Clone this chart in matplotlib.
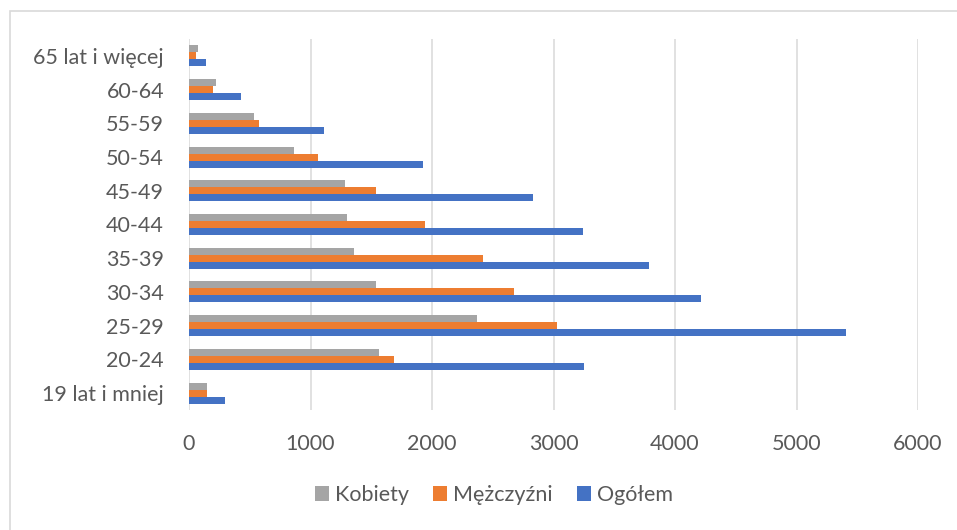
import matplotlib
matplotlib.use("Agg")
import matplotlib.pyplot as plt
import numpy as np
from matplotlib.patches import Rectangle

categories = ["19 lat i mniej", "20-24", "25-29", "30-34", "35-39", "40-44",
              "45-49", "50-54", "55-59", "60-64", "65 lat i więcej"]
kobiety = [148, 1560, 2368, 1535, 1359, 1298, 1284, 866, 536, 223, 78]
mezczyzni = [148, 1688, 3031, 2679, 2417, 1939, 1543, 1059, 575, 201, 55]
ogolem = [300, 3252, 5411, 4216, 3782, 3240, 2833, 1928, 1114, 429, 140]
series_names = ["Kobiety", "Mężczyźni", "Ogółem"]
colors = ["#A5A5A5", "#ED7D31", "#4472C4"]
xticks = [0, 1000, 2000, 3000, 4000, 5000, 6000]

plt.rcParams['font.family'] = ['Lato', 'DejaVu Sans']
text_color = "#595959"
fs = 15.5

W, H = 957, 530
fig = plt.figure(figsize=(W / 100, H / 100), dpi=100)
ax = fig.add_axes([189 / W, 1 - 410 / H, (918 - 189) / W, (410 - 39) / H])

y = np.arange(len(categories))
h = 0.208
ax.barh(y + h, kobiety, height=h, color=colors[0], label=series_names[0], zorder=3)
ax.barh(y, mezczyzni, height=h, color=colors[1], label=series_names[1], zorder=3)
ax.barh(y - h, ogolem, height=h, color=colors[2], label=series_names[2], zorder=3)

ax.set_xlim(0, 6000)
ax.set_ylim(-0.5, len(categories) - 0.5)
ax.set_xticks(xticks)
ax.set_xticklabels([str(v) for v in xticks])
ax.set_yticks(y)
ax.set_yticklabels(categories)
ax.tick_params(axis='both', length=0, labelsize=fs, labelcolor=text_color)
ax.tick_params(axis='x', pad=17)
ax.tick_params(axis='y', pad=18)
ax.grid(axis='x', color="#D9D9D9", linewidth=1.1, zorder=0)
for s in ax.spines.values():
    s.set_visible(False)

leg = fig.legend(loc='center', bbox_to_anchor=(0.516, 1 - 495 / H), ncol=3,
                 frameon=False, fontsize=fs, handlelength=0.65, handleheight=0.65,
                 handletextpad=0.3, columnspacing=1.1)
for t in leg.get_texts():
    t.set_color(text_color)

fig.patches.append(Rectangle((10 / W, -0.05), 1.1, 1 - 11 / H + 0.05,
                             transform=fig.transFigure, fill=False,
                             edgecolor="#D9D9D9", linewidth=1.2))

fig.savefig("out.png", dpi=100)
